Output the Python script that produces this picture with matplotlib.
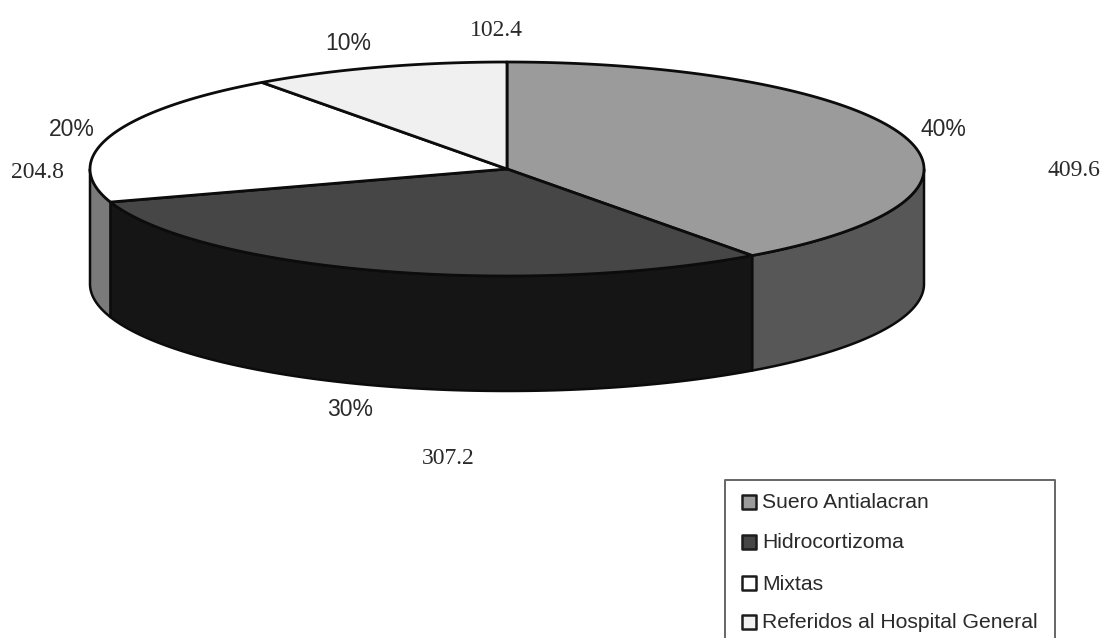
import matplotlib
matplotlib.use("Agg")
import matplotlib.pyplot as plt
import numpy as np

categories = ["Suero Antialacran", "Hidrocortizoma", "Mixtas", "Referidos al Hospital General"]
values = [409.6, 307.2, 204.8, 102.4]
percent_labels = ["40%", "30%", "20%", "10%"]
value_labels = ["409.6", "307.2", "204.8", "102.4"]

top_colors = ["#9b9b9b", "#464646", "#ffffff", "#f0f0f0"]
side_colors = ["#575757", "#151515", "#7a7a7a", "#aaaaaa"]

# pie geometry in image pixels
cx, cy = 507, 169
rx, ry = 417, 107
depth = 115

pct_pos = [(943, 130), (350, 410), (72, 129), (348, 44)]
val_pos = [(1074, 171), (448, 459), (37, 173), (496, 31)]
legend_y = [502, 542, 583, 622]


def ellipse(clock_deg, dy=0):
    # angle measured clockwise from the top of the pie
    a = np.radians(clock_deg)
    return cx + rx * np.sin(a), cy - ry * np.cos(a) + dy


fig = plt.figure(figsize=(11.05, 6.38), dpi=100)
ax = fig.add_axes([0, 0, 1, 1])
ax.set_xlim(0, 1105)
ax.set_ylim(638, 0)
ax.axis("off")

fracs = np.array(values) / sum(values)
edges = np.concatenate([[0], np.cumsum(fracs) * 360])

# sides first, only the front half of the rim can be seen
for i in range(len(values)):
    a0 = max(edges[i], 90)
    a1 = min(edges[i + 1], 270)
    if a1 <= a0:
        continue
    t = np.linspace(a0, a1, 120)
    xt, yt = ellipse(t)
    xb, yb = ellipse(t[::-1], depth)
    ax.fill(np.r_[xt, xb], np.r_[yt, yb], facecolor=side_colors[i],
            edgecolor="#0c0c0c", lw=1.8, joinstyle="round", zorder=2)

# top of the pie
for i in range(len(values)):
    t = np.linspace(edges[i], edges[i + 1], 200)
    xt, yt = ellipse(t)
    ax.fill(np.r_[cx, xt], np.r_[cy, yt], facecolor=top_colors[i],
            edgecolor="#0c0c0c", lw=2.0, joinstyle="round", zorder=3)

for i in range(len(values)):
    ax.text(pct_pos[i][0], pct_pos[i][1], percent_labels[i], family="Liberation Sans",
            fontsize=16.5, color="#2a2a2a", ha="center", va="center")
    ax.text(val_pos[i][0], val_pos[i][1], value_labels[i], family="Liberation Serif",
            fontsize=17, color="#2a2a2a", ha="center", va="center")

# legend box runs off the bottom of the scan
ax.plot([725, 725, 1055, 1055], [645, 480, 480, 645], color="#666666", lw=1.4, zorder=4)
for i in range(len(categories)):
    ax.scatter(749, legend_y[i], marker="s", s=105, facecolor=top_colors[i],
               edgecolor="#1c1c1c", lw=1.8, zorder=5)
    ax.text(762, legend_y[i] + 1, categories[i], family="Liberation Sans", fontsize=15.2,
            color="#2a2a2a", ha="left", va="center")

fig.savefig("out.png", dpi=100, facecolor="white")
